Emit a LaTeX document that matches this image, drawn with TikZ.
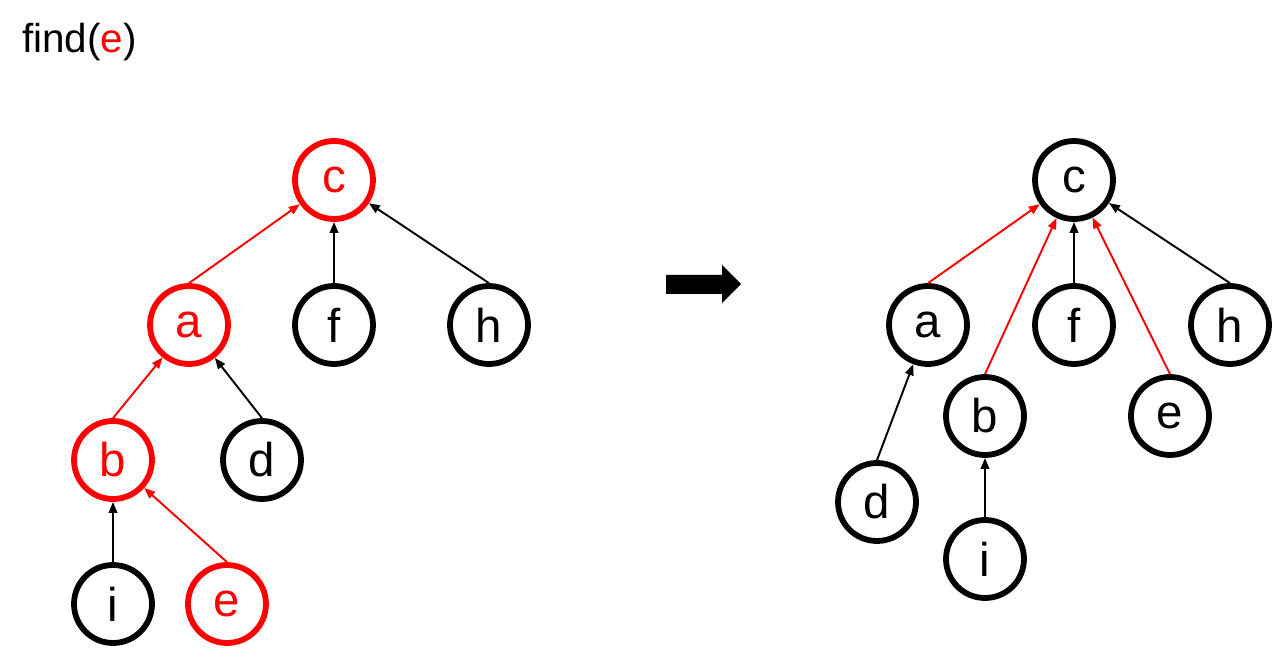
\documentclass[tikz,border=0pt]{standalone}
\usepackage{fontspec}
\setmainfont{Liberation Sans}
\usetikzlibrary{arrows.meta}
\definecolor{hot}{RGB}{255,0,0}

\begin{document}
\begin{tikzpicture}[
        x=0.02cm,
        y=-0.02cm,
        font=\fontsize{27}{30}\selectfont,
        vert/.style={circle, draw, line width=3.3pt, minimum size=1.56cm, inner sep=0pt},
        hotvert/.style={vert, draw=hot, text=hot},
        link/.style={line width=1.1pt, -{Triangle[length=0.22cm,width=0.17cm]}},
        hotlink/.style={link, draw=hot, fill=hot}
    ]
    \useasboundingbox (0,0) rectangle (1285,655);

    % Title
    \node[anchor=base west, font=\fontsize{23}{26}\selectfont] (title) at (16,53) {find(\textcolor{hot}{e})};

    % Left tree (before)
    \node[hotvert] (lc) at (334,180) {c};
    \node[hotvert] (la) at (189,325) {a};
    \node[vert] (lf) at (334,325) {f};
    \node[vert] (lh) at (489,325) {h};
    \node[hotvert] (lb) at (113,460) {b};
    \node[vert] (ld) at (262,460) {d};
    \node[vert] (li) at (113,604) {i};
    \node[hotvert] (le) at (227,604) {e};

    \draw[hotlink] (la.north) -- (lc);
    \draw[link] (lf.north) -- (lc);
    \draw[link] (lh.north) -- (lc);
    \draw[hotlink] (lb.north) -- (la);
    \draw[link] (ld.north) -- (la);
    \draw[link] (li.north) -- (lb);
    \draw[hotlink] (le.north) -- (lb);

    % Big arrow
    \fill (666,275) -- (722,275) -- (722,265) -- (741,284) -- (722,303)
        -- (722,294) -- (666,294) -- cycle;

    % Right tree (after)
    \node[vert] (rc) at (1074,180) {c};
    \node[vert] (ra) at (928,325) {a};
    \node[vert] (rf) at (1074,325) {f};
    \node[vert] (rh) at (1230,325) {h};
    \node[vert] (rb) at (985,416) {b};
    \node[vert] (re) at (1170,416) {e};
    \node[vert] (rd) at (877,502) {d};
    \node[vert] (ri) at (985,559) {i};

    \draw[hotlink] (ra.north) -- (rc);
    \draw[hotlink] (rb.north) -- (rc);
    \draw[link] (rf.north) -- (rc);
    \draw[hotlink] (re.north) -- (rc);
    \draw[link] (rh.north) -- (rc);
    \draw[link] (rd.north) -- (ra);
    \draw[link] (ri.north) -- (rb);

\end{tikzpicture}
\end{document}
